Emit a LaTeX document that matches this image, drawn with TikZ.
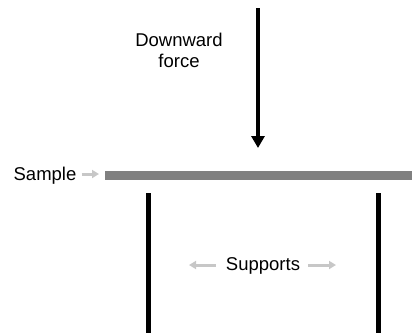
\documentclass[tikz,border=0pt]{standalone}
\usepackage{fontspec}
\setmainfont{Liberation Sans}
\usetikzlibrary{arrows.meta}
\definecolor{beamgray}{gray}{0.5}
\definecolor{hintgray}{gray}{0.78}
\begin{document}
\begin{tikzpicture}[x=1pt,y=-1pt,
    labeltext/.style={font=\fontsize{18.5}{21}\selectfont, align=center, inner sep=0pt},
    hintarrow/.style={hintgray, line width=3pt, -{Triangle[length=7pt,width=8pt]}}]
    \useasboundingbox (0,0) rectangle (412,333);
    % beam and the two supports
    \draw [beamgray, line width=9pt] (105,175.5) coordinate (beamL) -- (412,175.5) coordinate (beamR);
    \draw [line width=5pt] (148,193) coordinate (suppLtop) -- (148,333) coordinate (suppLbot);
    \draw [line width=5pt] (378,193) coordinate (suppRtop) -- (378,333) coordinate (suppRbot);
    % load
    \coordinate (loadtop) at (258,8);
    \coordinate (loadtip) at (258,148);
    \draw [line width=4pt, -{Triangle[length=12pt,width=13pt]}] (loadtop) -- (loadtip);
    \node [labeltext, anchor=base] (force) at (179,67) {Downward\\force};
    % labels
    \node [labeltext, anchor=base] (sample) at (45,180) {Sample};
    \coordinate (sampletip) at (99,174);
    \draw [hintarrow] ([xshift=5pt]sample.east |- sampletip) -- (sampletip);
    \node [labeltext, anchor=base] (supports) at (263,270) {Supports};
    \coordinate (supptipL) at (189,265);
    \coordinate (supptipR) at (336,265);
    \draw [hintarrow] ([xshift=-10pt]supports.west |- supptipL) -- (supptipL);
    \draw [hintarrow] ([xshift=8pt]supports.east |- supptipR) -- (supptipR);
\end{tikzpicture}
\end{document}
